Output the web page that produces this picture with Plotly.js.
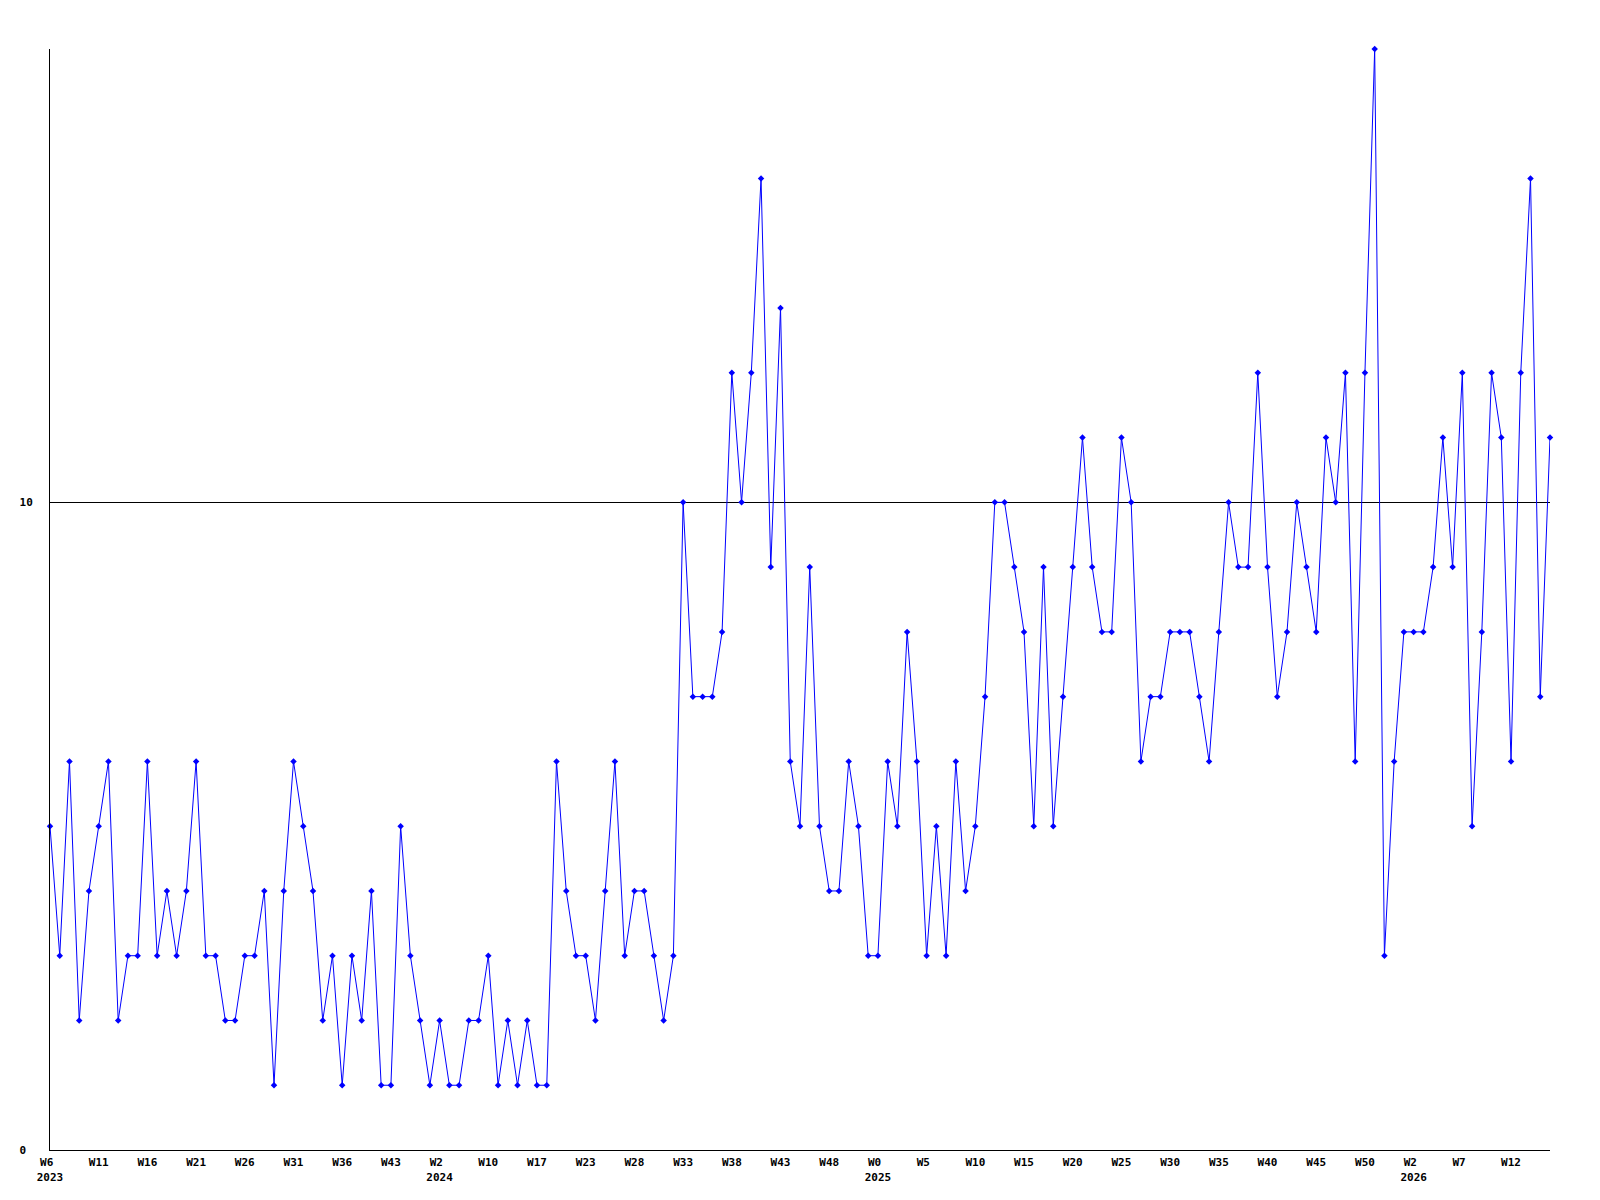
<!DOCTYPE html>
<html>
<head>
<meta charset="utf-8">
<script src="https://cdn.plot.ly/plotly-3.0.1.min.js"></script>
<style>
  html, body { margin: 0; padding: 0; background: #ffffff; }
  #chart { width: 1600px; height: 1200px; }
</style>
</head>
<body>
<div id="chart"></div>
<script>
// Weekly counts (155 weeks)
const values = [
  5,3,6,2,4,5,6,2,3,3,
  6,3,4,3,4,6,3,3,2,2,
  3,3,4,1,4,6,5,4,2,3,
  1,3,2,4,1,1,5,3,2,1,
  2,1,1,2,2,3,1,2,1,2,
  1,1,6,4,3,3,2,4,6,3,
  4,4,3,2,3,10,7,7,7,8,
  12,10,12,15,9,13,6,5,9,5,
  4,4,6,5,3,3,6,5,8,6,
  3,5,3,6,4,5,7,10,10,9,
  8,5,9,5,7,9,11,9,8,8,
  11,10,6,7,7,8,8,8,7,6,
  8,10,9,9,12,9,7,8,10,9,
  8,11,10,12,6,12,17,3,6,8,
  8,8,9,11,9,12,5,8,12,11,
  6,12,15,7,11
];

// Tick positions (week index) and their labels
const tickPos = [0,5,10,15,20,25,30,35,40,45,50,55,60,65,70,75,80,85,90,95,100,105,110,115,120,125,130,135,140,145,150];
const tickWeeks = ["W6","W11","W16","W21","W26","W31","W36","W43","W2","W10","W17","W23","W28","W33","W38","W43","W48","W0","W5","W10","W15","W20","W25","W30","W35","W40","W45","W50","W2","W7","W12"];
const tickYears = ["2023","","","","","","","","2024","","","","","","","","","2025","","","","","","","","","","","2026","",""];

const yTickVals = [0, 10];
const yTickText = ["0\u00a0", "10"];

const weekIdx = values.map((v, i) => i);
const tickText = tickWeeks.map((w, i) => {
  const wl = w.length < 3 ? w + "\u00a0" : w;
  return tickYears[i] ? wl + "<br>" + tickYears[i] : wl;
});

const font = { family: "DejaVu Sans Mono", size: 11, color: "#000000", weight: "bold" };

const trace = {
  x: weekIdx,
  y: values,
  type: "scatter",
  mode: "lines+markers",
  line: { color: "#0000ff", width: 1 },
  marker: { color: "#0000ff", size: 5, symbol: "diamond" },
  cliponaxis: false,
  hoverinfo: "skip"
};

const layout = {
  width: 1600,
  height: 1200,
  margin: { l: 50, r: 50, t: 49, b: 50, pad: 0 },
  paper_bgcolor: "#ffffff",
  plot_bgcolor: "#ffffff",
  showlegend: false,
  font: font,
  xaxis: {
    range: [0, 154],
    tickmode: "array",
    tickvals: tickPos,
    ticktext: tickText,
    tickangle: 0,
    ticks: "",
    showgrid: false,
    zeroline: false,
    showline: true,
    linecolor: "#000000",
    linewidth: 1,
    tickfont: font,
    ticklabelstandoff: 2
  },
  yaxis: {
    range: [0, 17],
    tickmode: "array",
    tickvals: yTickVals,
    ticktext: yTickText,
    ticks: "",
    showgrid: true,
    gridcolor: "#000000",
    gridwidth: 1,
    zeroline: false,
    showline: true,
    linecolor: "#000000",
    linewidth: 1,
    tickfont: font,
    ticklabelstandoff: 14
  }
};

Plotly.newPlot("chart", [trace], layout, { staticPlot: true, displayModeBar: false });
</script>
</body>
</html>
